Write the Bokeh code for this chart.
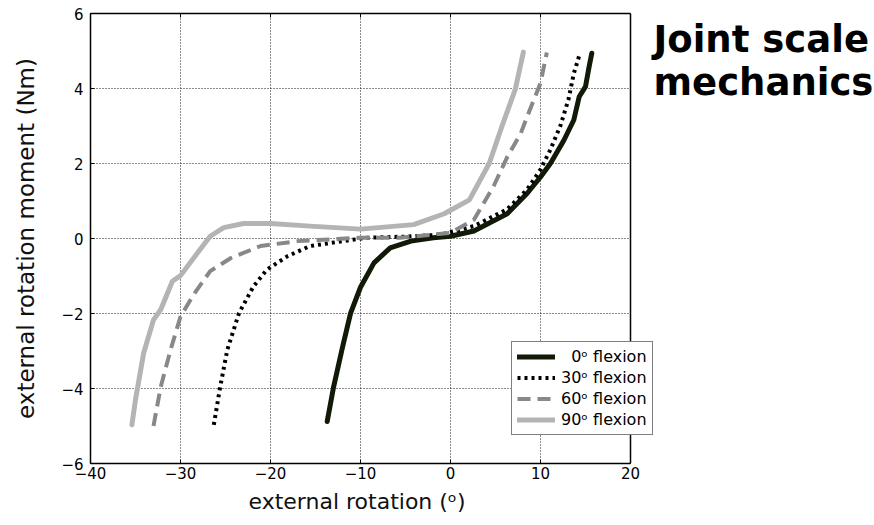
from bokeh.plotting import figure
from bokeh.models import (Legend, LegendItem, Label, FixedTicker, LinearAxis,
                          CustomJSTickFormatter, Range1d, Span, Title)
from bokeh.embed import file_html
from bokeh.resources import INLINE

# ---- data ----
x0 = [-13.7, -13.0, -12.0, -11.1, -10.0, -8.5, -6.7, -4.4, -1.9, 0.0, 2.6, 6.3,
      8.5, 10.0, 11.1, 12.6, 13.7, 14.3, 15.0, 15.4, 15.7]
y0 = [-4.88, -3.97, -2.9, -1.99, -1.3, -0.65, -0.25, -0.07, 0.02, 0.06, 0.2, 0.66,
      1.2, 1.64, 2.0, 2.62, 3.16, 3.78, 4.05, 4.58, 4.94]

x30 = [-26.3, -25.6, -24.8, -23.5, -21.9, -20.4, -18.1, -15.6, -11.9, -9.3, -5.0,
       -1.1, 2.6, 6.3, 8.5, 10.0, 11.1, 12.2, 13.1, 13.7, 14.4]
y30 = [-4.97, -3.97, -2.97, -1.99, -1.28, -0.83, -0.47, -0.2, -0.07, 0.02, 0.05,
       0.1, 0.33, 0.78, 1.3, 1.84, 2.37, 3.0, 3.7, 4.4, 4.95]

x60 = [-33.0, -32.2, -31.1, -30.0, -28.5, -26.7, -24.4, -21.1, -17.0, -10.0, -5.6,
       0.0, 2.6, 4.8, 6.3, 7.8, 8.5, 9.4, 10.0, 10.7]
y60 = [-5.0, -3.96, -2.97, -2.08, -1.48, -0.87, -0.52, -0.2, -0.07, 0.02, 0.02,
       0.15, 0.5, 1.4, 2.17, 2.8, 3.24, 3.78, 4.14, 4.96]

x90 = [-35.4, -35.0, -34.1, -33.0, -32.2, -30.9, -30.0, -28.1, -26.7, -25.2, -23.0,
       -20.0, -15.6, -10.0, -4.1, -0.7, 2.1, 4.3, 5.7, 7.2, 8.1]
y90 = [-4.97, -4.3, -3.06, -2.17, -1.9, -1.14, -0.99, -0.38, 0.06, 0.29, 0.4,
       0.4, 0.33, 0.25, 0.37, 0.66, 1.03, 2.0, 2.98, 3.98, 4.97]

series_labels = ["\u20070\u1d52 flexion", "30\u1d52 flexion",
                 "60\u1d52 flexion", "90\u1d52 flexion"]

x_ticks = [-40, -30, -20, -10, 0, 10, 20]
x_tick_labels = ["\u221240", "\u221230", "\u221220", "\u221210", "0", "10", "20"]
y_ticks = [-6, -4, -2, 0, 2, 4, 6]
y_tick_labels = ["\u22126", "\u22124", "\u22122", "0", "2", "4", "6"]

title_lines = ["Joint scale", "mechanics"]
x_label = "external rotation (\u1d52)"
y_label = "external rotation moment (Nm)"

FONT = "DejaVu Sans"
X_MIN, X_MAX = x_ticks[0], x_ticks[-1]
Y_MIN, Y_MAX = y_ticks[0], y_ticks[-1]

# The frame reaches the right edge of the page so that the legend and the
# heading (which sit partly outside the axes box) are not clipped; the axes box
# itself is bounded at X_MAX.
FRAME_LEFT, FRAME_PX_PER_UNIT, RIGHT_EXTRA_PX = 90, 9.0, 244
p = figure(width=874, height=525, output_backend="svg", toolbar_location=None,
           x_range=Range1d(X_MIN, X_MAX + RIGHT_EXTRA_PX / FRAME_PX_PER_UNIT),
           y_range=Range1d(Y_MIN, Y_MAX),
           min_border_left=FRAME_LEFT, min_border_right=0, min_border_top=13,
           min_border_bottom=62)
p.background_fill_color = "white"
p.border_fill_color = "white"
p.outline_line_color = None

for ax, ticks, labels in ((p.xaxis[0], x_ticks, x_tick_labels),
                          (p.yaxis[0], y_ticks, y_tick_labels)):
    ax.ticker = FixedTicker(ticks=ticks)
    ax.major_label_overrides = {t: l for t, l in zip(ticks, labels)}
    ax.major_tick_in = 4
    ax.major_tick_out = 0
    ax.minor_tick_line_color = None
    ax.axis_line_color = "black"
    ax.axis_line_width = 1.5
    ax.major_label_text_font = FONT
    ax.major_label_text_font_size = "15px"
    ax.major_label_text_color = "black"
    ax.axis_label_text_font = FONT
    ax.axis_label_text_font_style = "normal"
    ax.axis_label_text_color = "#111111"

p.xaxis[0].bounds = (X_MIN, X_MAX)
p.xaxis[0].major_label_standoff = 3
p.yaxis[0].axis_label = y_label
p.yaxis[0].axis_label_text_font_size = "23px"
p.yaxis[0].major_label_standoff = 7
p.yaxis[0].axis_label_standoff = 19

# x axis title, placed under the axes box (centred on the box, not the frame)
p.add_layout(Title(text=x_label, align="left", offset=158, vertical_align="top",
                   standoff=15, text_font=FONT, text_font_size="22px",
                   text_font_style="normal", text_color="#111111"), "below")

# top edge of the axes box with inward ticks (no labels)
top_axis = LinearAxis(ticker=FixedTicker(ticks=x_ticks), bounds=(X_MIN, X_MAX),
                      formatter=CustomJSTickFormatter(code="return ''"),
                      major_tick_in=4, major_tick_out=0,
                      minor_tick_line_color=None, axis_line_color="black",
                      axis_line_width=1.5, major_label_text_font_size="0px",
                      major_label_standoff=0)
p.add_layout(top_axis, "above")

# right edge of the axes box
p.add_layout(Span(location=X_MAX, dimension="height", line_color="black",
                  line_width=1.5))

# grid: vertical lines through the x ticks, horizontal lines bounded to the box
p.xgrid.ticker = FixedTicker(ticks=x_ticks)
p.xgrid.grid_line_color = "black"
p.xgrid.grid_line_dash = "1 2"
p.xgrid.grid_line_width = 1
p.xgrid.grid_line_alpha = 0.9
p.ygrid.visible = False
p.segment(x0=[X_MIN] * len(y_ticks), x1=[X_MAX] * len(y_ticks),
          y0=y_ticks, y1=y_ticks, line_color="black", line_dash="1 2",
          line_width=1, line_alpha=0.9, level="underlay")

r0 = p.line(x0, y0, line_color="#101a06", line_width=5, line_join="round",
            line_cap="round")
r30 = p.line(x30, y30, line_color="black", line_width=4, line_dash="3 4",
             line_join="round")
r60 = p.line(x60, y60, line_color="#888888", line_width=4, line_dash="13 7",
             line_join="round")
r90 = p.line(x90, y90, line_color="#b4b4b4", line_width=5, line_join="round",
             line_cap="round")

legend = Legend(items=[LegendItem(label=l, renderers=[r]) for l, r in
                       zip(series_labels, [r0, r30, r60, r90])],
                location=(421, 28))
legend.label_text_font = FONT
legend.label_text_font_size = "16px"
legend.label_text_color = "black"
legend.glyph_width = 38
legend.glyph_height = 19
legend.label_height = 19
legend.label_standoff = 6
legend.spacing = 2
legend.padding = 5
legend.margin = 0
legend.border_line_color = "black"
legend.border_line_width = 1
legend.background_fill_color = "white"
legend.background_fill_alpha = 1
p.add_layout(legend)

for i, t in enumerate(title_lines):
    p.add_layout(Label(x=563, y=424 - 43 * i, x_units="screen", y_units="screen",
                       text=t, text_font=FONT, text_font_size="37px",
                       text_font_style="bold", text_color="black",
                       text_baseline="alphabetic", text_align="left"))

open("out.html", "w").write(file_html(p, INLINE))
